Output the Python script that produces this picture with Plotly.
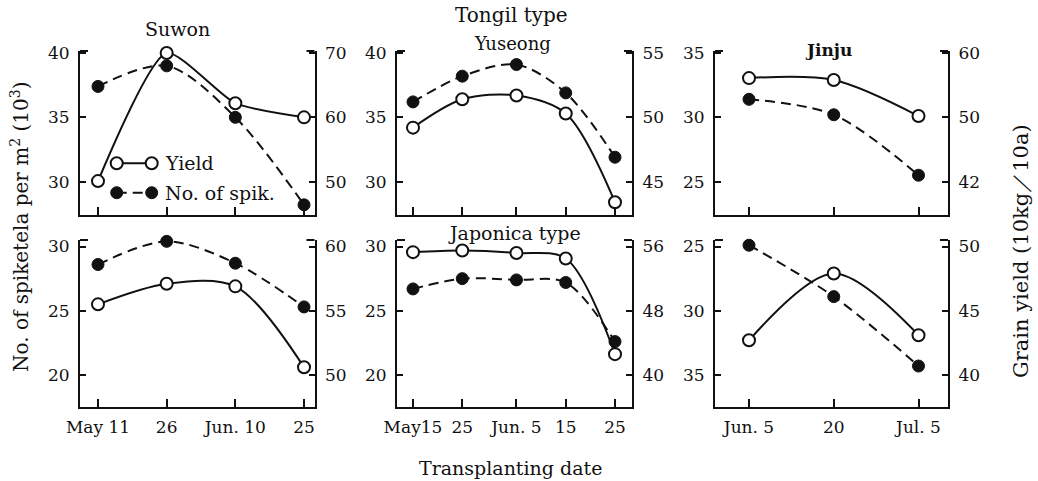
import plotly.graph_objects as go
from datetime import datetime, timedelta

# ---------------- data ----------------
suwon_dates = ["2000-05-11", "2000-05-26", "2000-06-10", "2000-06-25"]
suwon_labels = ["May 11", "26", "Jun. 10", "25"]
yuseong_dates = ["2000-05-15", "2000-05-25", "2000-06-05", "2000-06-15", "2000-06-25"]
yuseong_labels = ["May15", "25", "Jun. 5", "15", "25"]
jinju_dates = ["2000-06-05", "2000-06-20", "2000-07-05"]
jinju_labels = ["Jun. 5", "20", "Jul. 5"]

# No. of spikelets per m2 (10^3)  -> left axes ; grain yield (10kg/10a) -> right axes
tongil_suwon_spik = [37.4, 39.0, 35.0, 28.2]
tongil_suwon_yield = [50.1, 70.0, 62.2, 60.0]
tongil_yuseong_spik = [36.2, 38.2, 39.1, 36.9, 31.9]
tongil_yuseong_yield = [49.2, 51.4, 51.7, 50.3, 43.4]
tongil_jinju_spik = [31.4, 30.2, 25.5]
tongil_jinju_yield = [56.1, 55.8, 50.2]
japonica_suwon_spik = [28.6, 30.4, 28.7, 25.3]
japonica_suwon_yield = [55.5, 57.1, 56.9, 50.6]
japonica_yuseong_spik = [26.7, 27.5, 27.4, 27.2, 22.6]
japonica_yuseong_yield = [55.3, 55.5, 55.2, 54.5, 42.6]
japonica_jinju_spik = [24.9, 28.9, 34.3]
japonica_jinju_yield = [42.7, 47.9, 43.1]

# tick values / labels of the y axes
tongil_suwon_left_ticks = [30, 35, 40]
tongil_suwon_right_ticks = [50, 60, 70]
tongil_yuseong_left_ticks = [30, 35, 40]
tongil_yuseong_right_ticks = [45, 50, 55]
tongil_jinju_left_ticks = [25, 30, 35]
tongil_jinju_right_ticks = [40, 50, 60]
tongil_jinju_right_labels = ["42", "50", "60"]
japonica_suwon_left_ticks = [20, 25, 30]
japonica_suwon_right_ticks = [50, 55, 60]
japonica_yuseong_left_ticks = [20, 25, 30]
japonica_yuseong_right_ticks = [40, 48, 56]
japonica_jinju_left_ticks = [25, 30, 35]
japonica_jinju_right_ticks = [40, 45, 50]

# ---------------- layout helpers ----------------
W, H = 1038, 481
FONT = "DejaVu Serif"
BLACK = "#111111"


def fx(px):
    return px / W


def fy(py):
    return 1 - py / H


def drange(dates, pad_left, pad_right):
    a = datetime.strptime(dates[0], "%Y-%m-%d") - timedelta(days=pad_left)
    b = datetime.strptime(dates[-1], "%Y-%m-%d") + timedelta(days=pad_right)
    return [a.strftime("%Y-%m-%d %H:%M:%S"), b.strftime("%Y-%m-%d %H:%M:%S")]


def ax_id(letter, n):
    return letter if n == 1 else f"{letter}{n}"


COLS = {
    "suwon": dict(dates=suwon_dates, labels=suwon_labels, xpx=(80, 314.5), pad=(3.93, 2.29)),
    "yuseong": dict(dates=yuseong_dates, labels=yuseong_labels, xpx=(397, 632), pad=(3.25, 3.45)),
    "jinju": dict(dates=jinju_dates, labels=jinju_labels, xpx=(715, 948), pad=(6.02, 5.22)),
}
ROWS = {"top": (51, 215), "bottom": (240, 406.5)}

panels = [
    dict(col="suwon", row="top", spik=tongil_suwon_spik, yld=tongil_suwon_yield, ysmooth=0.6,
         lr=[27.41, 40.155], lt=tongil_suwon_left_ticks, rr=[44.83, 70.31], rt=tongil_suwon_right_ticks),
    dict(col="yuseong", row="top", spik=tongil_yuseong_spik, yld=tongil_yuseong_yield,
         lr=[27.41, 40.155], lt=tongil_yuseong_left_ticks, rr=[42.41, 55.155], rt=tongil_yuseong_right_ticks),
    dict(col="jinju", row="top", spik=tongil_jinju_spik, yld=tongil_jinju_yield,
         lr=[22.41, 35.155], lt=tongil_jinju_left_ticks, rr=[34.83, 60.31], rt=tongil_jinju_right_ticks,
         rtext=tongil_jinju_right_labels),
    dict(col="suwon", row="bottom", spik=japonica_suwon_spik, yld=japonica_suwon_yield,
         lr=[17.55, 30.506], lt=japonica_suwon_left_ticks, rr=[47.55, 60.506], rt=japonica_suwon_right_ticks),
    dict(col="yuseong", row="bottom", spik=japonica_yuseong_spik, yld=japonica_yuseong_yield,
         lr=[17.55, 30.506], lt=japonica_yuseong_left_ticks, rr=[36.08, 56.81], rt=japonica_yuseong_right_ticks),
    dict(col="jinju", row="bottom", spik=japonica_jinju_spik, yld=japonica_jinju_yield,
         lr=[37.45, 24.494], lt=japonica_jinju_left_ticks, rr=[37.55, 50.506], rt=japonica_jinju_right_ticks),
]

fig = go.Figure()
layout = {}
shapes = []
tickfont = dict(family=FONT, size=17, color=BLACK)

for i, p in enumerate(panels, start=1):
    c = COLS[p["col"]]
    r = ROWS[p["row"]]
    xa, yl, yr = ax_id("x", i), ax_id("y", 2 * i - 1), ax_id("y", 2 * i)
    xk = xa.replace("x", "xaxis")
    ylk = yl.replace("y", "yaxis")
    yrk = yr.replace("y", "yaxis")

    fig.add_trace(go.Scatter(
        x=c["dates"], y=p["spik"], xaxis=xa, yaxis=yl, mode="lines+markers",
        name="No. of spik.", showlegend=False, cliponaxis=False,
        line=dict(color=BLACK, width=2, dash="10px,6px", shape="spline", smoothing=0.9),
        marker=dict(symbol="circle", size=12, color=BLACK, line=dict(color=BLACK, width=1)),
    ))
    fig.add_trace(go.Scatter(
        x=c["dates"], y=p["yld"], xaxis=xa, yaxis=yr, mode="lines+markers",
        name="Yield", showlegend=False, cliponaxis=False,
        line=dict(color=BLACK, width=2, shape="spline", smoothing=p.get("ysmooth", 0.9)),
        marker=dict(symbol="circle", size=12, color="white", line=dict(color=BLACK, width=2)),
    ))

    bottom = p["row"] == "bottom"
    layout[xk] = dict(
        domain=[fx(c["xpx"][0]), fx(c["xpx"][1])], anchor=yl, type="date",
        range=drange(c["dates"], *c["pad"]), tickvals=c["dates"], ticktext=c["labels"],
        showticklabels=bottom, ticks="inside", ticklen=8, tickwidth=2, tickcolor=BLACK,
        showline=True, linecolor=BLACK, linewidth=2, showgrid=False, zeroline=False,
        tickfont=tickfont, ticklabelstandoff=4, fixedrange=True, automargin=False,
    )
    layout[ylk] = dict(
        domain=[fy(r[1]), fy(r[0])], anchor=xa, side="left", range=p["lr"],
        tickvals=p["lt"], ticktext=[str(v) for v in p["lt"]],
        ticks="inside", ticklen=6, tickwidth=2, tickcolor=BLACK,
        showline=True, linecolor=BLACK, linewidth=2, showgrid=False, zeroline=False,
        tickfont=tickfont, ticklabelstandoff=5, fixedrange=True, automargin=False,
    )
    layout[yrk] = dict(
        overlaying=yl, anchor=xa, side="right", range=p["rr"],
        tickvals=p["rt"], ticktext=p.get("rtext", [str(v) for v in p["rt"]]),
        ticks="inside", ticklen=6, tickwidth=2, tickcolor=BLACK,
        showline=True, linecolor=BLACK, linewidth=2, showgrid=False, zeroline=False,
        tickfont=tickfont, ticklabelstandoff=5, fixedrange=True, automargin=False,
    )
    # small frame stubs at the top of both vertical axes
    for anchor, x0, x1 in ((0, 0, 8), (1, -8, 0)):
        shapes.append(dict(type="line", xref=f"{xa} domain", yref=f"{yl} domain",
                           xsizemode="pixel", xanchor=anchor, x0=x0, x1=x1, y0=1, y1=1,
                           line=dict(color=BLACK, width=2)))

# ---------------- legend key (inside the Suwon Tongil panel) ----------------
for (cx1, cx2, cy, filled, dash) in ((116.7, 151.7, 163.3, False, "solid"),
                                     (116.7, 151.7, 192.7, True, "10px,6px")):
    shapes.append(dict(type="line", xref="paper", yref="paper",
                       x0=fx(cx1), x1=fx(cx2), y0=fy(cy), y1=fy(cy),
                       line=dict(color=BLACK, width=2, dash=dash)))
    for cx in (cx1, cx2):
        shapes.append(dict(type="circle", xref="paper", yref="paper",
                           xsizemode="pixel", ysizemode="pixel", xanchor=fx(cx), yanchor=fy(cy),
                           x0=-6, x1=6, y0=-6, y1=6,
                           fillcolor=BLACK if filled else "white",
                           line=dict(color=BLACK, width=2 if not filled else 1)))

annotations = []


def ann(text, px, py, size=19, angle=0, xanchor="center"):
    annotations.append(dict(text=text, x=fx(px), y=fy(py), xref="paper", yref="paper",
                            showarrow=False, xanchor=xanchor, yanchor="middle", textangle=angle,
                            font=dict(family=FONT, size=size, color=BLACK)))


ann("Yield", 163, 163.3, size=19, xanchor="left")
ann("No. of spik.", 163, 192.7, size=19, xanchor="left")
ann("Tongil type", 511.5, 15, size=20)
ann("Suwon", 177.5, 29, size=19)
ann("Yuseong", 512, 43, size=18)
ann("<b>Jinju</b>", 828, 50, size=17)
ann("Japonica type", 514, 233, size=19)
ann("Transplanting date", 510, 468, size=19)
ann("No. of spiketela per m<sup>2</sup> (10<sup>3</sup>)", 20, 227, size=20, angle=-90)
ann("Grain yield (10kg／10a)", 1021, 251, size=21, angle=-90)

fig.update_layout(
    width=W, height=H, autosize=False,
    margin=dict(l=0, r=0, t=0, b=0, pad=0, autoexpand=False),
    paper_bgcolor="white", plot_bgcolor="white",
    showlegend=False, shapes=shapes, annotations=annotations,
    font=dict(family=FONT, color=BLACK),
    **layout,
)

fig.write_html("out.html", config={"displayModeBar": False},
               post_script="document.body.style.margin='0';document.body.style.overflow='hidden';")
